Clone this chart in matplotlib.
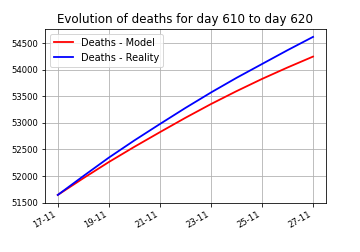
import matplotlib
matplotlib.use("Agg")
import matplotlib.pyplot as plt
import matplotlib.dates as mdates
import pandas as pd

dates = pd.date_range("2021-11-17", "2021-11-27", freq="D")
deaths_model = [51646, 51960, 52264, 52550, 52825, 53095, 53353, 53595, 53825, 54040, 54245]
deaths_reality = [51646, 52000, 52347, 52670, 52978, 53280, 53570, 53845, 54105, 54365, 54615]

fig = plt.figure(figsize=(5, 3.5), dpi=72)
ax = fig.add_axes([0.125, 0.195, 0.78, 0.69])

ax.plot(dates, deaths_model, color="red", linewidth=1.8, label="Deaths - Model")
ax.plot(dates, deaths_reality, color="blue", linewidth=1.8, label="Deaths - Reality")

ax.set_title("Evolution of deaths for day 610 to day 620", fontsize=11.9)
ax.set_yticks(range(51500, 55000, 500))
ax.xaxis.set_major_locator(mdates.DayLocator(interval=2))
ax.xaxis.set_major_formatter(mdates.DateFormatter("%d-%m"))
ax.tick_params(labelsize=8.5)
for lbl in ax.get_xticklabels():
    lbl.set_rotation(30)
    lbl.set_ha("right")
ax.grid(True)
ax.legend(loc="upper left", fontsize=9.8)

fig.savefig("out.png", dpi=72)
